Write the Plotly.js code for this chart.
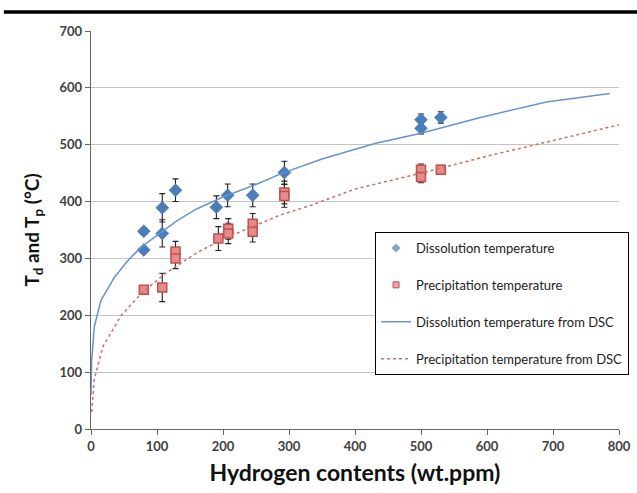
<!DOCTYPE html>
<html>
<head>
<meta charset="utf-8">
<script src="https://cdn.plot.ly/plotly-3.0.1.min.js"></script>
<style>html,body{margin:0;padding:0;background:#fff;}#chart{width:637px;height:493px;}</style>
</head>
<body>
<div id="chart"></div>
<script>
// Measured points (Dissolution)
const dissX = [80, 80, 108, 108, 128, 190, 207, 245, 293, 500, 500, 530];
const dissY = [348, 315, 389, 344, 420, 390, 411, 411, 451, 544, 529, 548];
const dissErr = [5, 5, 25, 24, 20, 20, 20, 20, 20, 10, 10, 10];

// Measured points (Precipitation)
const precX = [80, 108, 128, 128, 193, 208, 208, 245, 245, 293, 293, 500, 500, 530];
const precY = [245, 249, 312, 300, 335, 352, 344, 361, 347, 416, 410, 456, 443, 456];
const precErr = [5, 25, 18, 18, 21, 18, 18, 18, 18, 20, 20, 10, 10, 8];

// DSC curves
const dscDissX = [0, 1, 5, 15, 35, 55, 75, 105, 130, 160, 200, 250, 290, 350, 430, 500, 590, 690, 786];
const dscDissY = [60, 120, 180, 226, 266, 295, 319, 345, 366, 387, 408, 430, 450, 475, 502, 520, 548, 575, 590];
const dscPrecX = [1, 5, 18, 46, 76, 112, 142, 162, 200, 286, 337, 400, 500, 600, 670, 800];
const dscPrecY = [30, 87, 145, 200, 238, 273, 296, 311, 334, 376, 395, 422, 450, 480, 499, 535];

const xTicks = [0, 100, 200, 300, 400, 500, 600, 700, 800];
const yTicks = [0, 100, 200, 300, 400, 500, 600, 700];

const names = ['Dissolution temperature', 'Precipitation temperature',
  'Dissolution temperature from DSC', 'Precipitation temperature from DSC'];

const blue = '#4a7ebb', red = '#c0504d';
const errStyle = (arr) => ({type: 'data', array: arr, visible: true, color: '#222', thickness: 1.1, width: 3});

const traces = [
  {x: dissX, y: dissY, name: names[0], type: 'scatter', mode: 'markers', showlegend: false,
   marker: {symbol: 'diamond', size: 10, color: blue, line: {color: '#3c6aa5', width: 0.5}},
   error_y: errStyle(dissErr)},
  {x: precX, y: precY, name: names[1], type: 'scatter', mode: 'markers', showlegend: false,
   marker: {symbol: 'square', size: 9, color: '#e58b89', line: {color: red, width: 1.5}},
   error_y: errStyle(precErr)},
  {x: dscDissX, y: dscDissY, name: names[2], type: 'scatter', mode: 'lines', showlegend: false,
   line: {color: '#6a93cc', width: 1.5}},
  {x: dscPrecX, y: dscPrecY, name: names[3], type: 'scatter', mode: 'lines', showlegend: false,
   line: {color: '#d46a6a', width: 1.5, dash: '3px,3px'}},
  // legend entries (small symbols, as in the reference)
  {x: [null], y: [null], name: names[0], type: 'scatter', mode: 'markers', legendgroup: 'a',
   marker: {symbol: 'diamond', size: 7, color: '#7fa3d6'}},
  {x: [null], y: [null], name: names[1], type: 'scatter', mode: 'markers', legendgroup: 'b',
   marker: {symbol: 'square', size: 6, color: '#eba3a2', line: {color: red, width: 1}}},
  {x: [null], y: [null], name: names[2], type: 'scatter', mode: 'lines', legendgroup: 'c',
   line: {color: '#6a93cc', width: 1.5}},
  {x: [null], y: [null], name: names[3], type: 'scatter', mode: 'lines', legendgroup: 'd',
   line: {color: '#d46a6a', width: 1.5, dash: '3px,3px'}}
];

const fam = 'Lato, "Open Sans", sans-serif';
const tickFont = {family: fam, size: 13, color: '#404040', weight: 'bold'};

const layout = {
  width: 637, height: 493,
  margin: {l: 91, r: 18, t: 31, b: 64, autoexpand: false},
  paper_bgcolor: '#fff', plot_bgcolor: '#fff',
  showlegend: true,
  legend: {
    x: 0.538, y: 0.495, xanchor: 'left', yanchor: 'top',
    bgcolor: '#fff', bordercolor: '#000', borderwidth: 1,
    traceorder: 'grouped', tracegroupgap: 17,
    font: {family: fam, size: 13, color: '#222'}
  },
  xaxis: {
    range: [0, 800], tickvals: xTicks, ticktext: xTicks.map(String),
    showgrid: false, zeroline: false, showline: true, linecolor: '#666', linewidth: 1.3,
    ticks: 'outside', ticklen: 5, tickcolor: '#666', tickfont: tickFont,
    title: {text: 'Hydrogen contents (wt.ppm)', font: {family: fam, size: 23, color: '#111', weight: 'bold'}, standoff: 12}
  },
  yaxis: {
    range: [0, 700], tickvals: yTicks, ticktext: yTicks.map(String),
    showgrid: true, gridcolor: '#c4c4c4', gridwidth: 1.2,
    zeroline: false, showline: true, linecolor: '#666', linewidth: 1.3,
    ticks: 'outside', ticklen: 5, tickcolor: '#666', tickfont: tickFont,
    title: {text: 'T<sub>d</sub> and T<sub>p</sub> (°C)', font: {family: fam, size: 19, color: '#111', weight: 'bold'}, standoff: 14}
  },
  shapes: [
    {type: 'line', xref: 'paper', yref: 'paper', x0: -0.165, x1: 1.04, y0: 1.048, y1: 1.048,
     line: {color: '#000', width: 3.5}}
  ]
};

Plotly.newPlot('chart', traces, layout, {staticPlot: true, displayModeBar: false});
</script>
</body>
</html>
